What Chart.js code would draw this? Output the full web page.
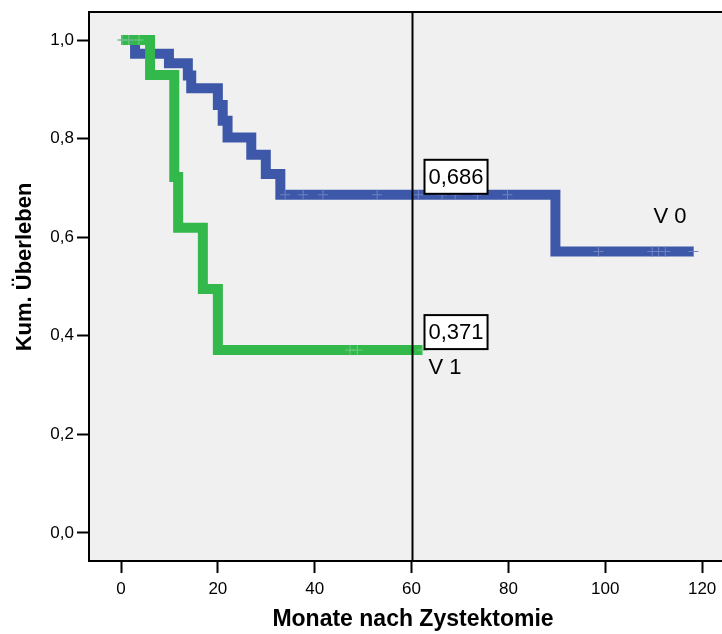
<!DOCTYPE html>
<html>
<head>
<meta charset="utf-8">
<script src="https://cdn.jsdelivr.net/npm/chart.js@4.4.1/dist/chart.umd.min.js"></script>
<style>
  html, body { margin: 0; padding: 0; background: #fff; }
  canvas { display: block; }
</style>
</head>
<body>
<canvas id="km" width="722" height="634"></canvas>
<script>
// Kaplan-Meier: Kum. Überleben nach Zystektomie
const xTicks = [0, 20, 40, 60, 80, 100, 120];
const yTicks = [0, 0.2, 0.4, 0.6, 0.8, 1.0];

// V 0 (blau)
const v0Time = [0, 2.9, 9.9, 13.8, 14.5, 20.0, 21.0, 22.0, 26.9, 29.9, 32.9, 89.7, 118.2];
const v0Surv = [1.0, 0.972, 0.953, 0.928, 0.902, 0.868, 0.836, 0.802, 0.767, 0.728, 0.686, 0.571, 0.571];
const v0Censored = [0.5, 1.8, 33.9, 37.6, 41.7, 52.9, 61.4, 66.3, 69.0, 73.6, 79.8, 98.6, 109.7, 111.0, 112.4, 118.2];

// V 1 (grün)
const v1Time = [0, 6.0, 11.0, 11.8, 16.9, 20.0, 62.2];
const v1Surv = [1.0, 0.929, 0.722, 0.619, 0.495, 0.371, 0.371];
const v1Censored = [0.2, 1.6, 3.7, 47.3, 48.8, 62.2];

const cutMonth = 60;

const blue = '#3e58a9';
const green = '#32b84b';
const font = '"Liberation Sans", Arial, sans-serif';

function survAt(times, surv, t) {
  let s = surv[0];
  for (let i = 0; i < times.length; i++) if (times[i] <= t) s = surv[i];
  return s;
}
const pts = (times, surv) => times.map((t, i) => ({ x: t, y: surv[i] }));
const censorPts = (list, times, surv) => list.map(t => ({ x: t, y: survAt(times, surv, t) }));
const comma = (v, d) => v.toFixed(d).replace('.', ',');

const stepLine = (label, data, color, order) => ({
  label, data, borderColor: color, borderWidth: 10, stepped: 'before',
  pointRadius: 0, fill: false, borderJoinStyle: 'miter', borderCapStyle: 'butt', order
});
const censorSet = (data, color) => ({
  type: 'scatter', data, showLine: false, pointStyle: 'cross',
  pointRadius: 5, borderWidth: 1, borderColor: color, order: 0
});

const plotBg = {
  id: 'plotBg',
  beforeDraw(chart) {
    const { ctx, chartArea: a } = chart;
    ctx.save();
    ctx.fillStyle = '#f0f0f0';
    ctx.fillRect(a.left, a.top, a.right - a.left, a.bottom - a.top);
    ctx.restore();
  }
};

const marks = {
  id: 'marks',
  afterDatasetsDraw(chart) {
    const { ctx, chartArea: a, scales: { x, y } } = chart;
    ctx.save();
    // Rahmen oben
    ctx.strokeStyle = '#000';
    ctx.lineWidth = 2;
    ctx.beginPath();
    ctx.moveTo(a.left, a.top);
    ctx.lineTo(a.right, a.top);
    ctx.stroke();

    // Linie bei 60 Monaten
    const cx = Math.round(x.getPixelForValue(cutMonth)) + 0.5;
    ctx.lineWidth = 2;
    ctx.beginPath();
    ctx.moveTo(cx, a.top);
    ctx.lineTo(cx, a.bottom);
    ctx.stroke();

    // Werte bei 60 Monaten
    ctx.font = '22px ' + font;
    ctx.textBaseline = 'middle';
    ctx.textAlign = 'left';
    [survAt(v0Time, v0Surv, cutMonth), survAt(v1Time, v1Surv, cutMonth)].forEach(v => {
      const txt = comma(v, 3);
      const w = ctx.measureText(txt).width + 8;
      const bx = cx + 12, by = y.getPixelForValue(v) - 35;
      ctx.fillStyle = '#fff';
      ctx.fillRect(bx, by, w, 34);
      ctx.strokeRect(bx, by, w, 34);
      ctx.fillStyle = '#000';
      ctx.fillText(txt, bx + 4, by + 18);
    });

    // Gruppenbeschriftung
    const v1End = v1Time[v1Time.length - 1];
    ctx.fillText('V 1', cx + 16, y.getPixelForValue(survAt(v1Time, v1Surv, v1End)) + 18);
    const v0End = v0Time[v0Time.length - 1];
    ctx.fillText('V 0', x.getPixelForValue(v0End) - 40, y.getPixelForValue(survAt(v0Time, v0Surv, v0End)) - 35);

    // Achsentitel
    ctx.font = 'bold 23px ' + font;
    ctx.textAlign = 'center';
    ctx.fillText('Monate nach Zystektomie', 413, 620);
    ctx.translate(25, 267);
    ctx.rotate(-Math.PI / 2);
    ctx.font = 'bold 22px ' + font;
    ctx.fillText('Kum. Überleben', 0, 0);
    ctx.restore();
  }
};

new Chart(document.getElementById('km'), {
  type: 'line',
  data: {
    datasets: [
      stepLine('V 1', pts(v1Time, v1Surv), green, 1),
      stepLine('V 0', pts(v0Time, v0Surv), blue, 2),
      censorSet(censorPts(v1Censored, v1Time, v1Surv), '#6fcd7e'),
      censorSet(censorPts(v0Censored, v0Time, v0Surv), '#7083c2')
    ]
  },
  options: {
    responsive: false,
    animation: false,
    layout: { autoPadding: false, padding: { top: 12, right: 0, bottom: 0, left: 0 } },
    plugins: { legend: { display: false }, tooltip: { enabled: false } },
    scales: {
      x: {
        type: 'linear', min: -6.61, max: 124.1,
        afterBuildTicks: s => { s.ticks = xTicks.map(v => ({ value: v })); },
        afterFit: s => { s.height = 73; s.paddingLeft = 0; s.paddingRight = 0; },
        grid: { drawOnChartArea: false, drawTicks: true, tickLength: 12, tickWidth: 2, tickColor: '#000' },
        border: { display: true, color: '#000', width: 2 },
        ticks: { color: '#000', font: { family: font, size: 17 }, padding: 6, maxRotation: 0, autoSkip: false }
      },
      y: {
        type: 'linear', min: -0.0568, max: 1.0568,
        afterBuildTicks: s => { s.ticks = yTicks.map(v => ({ value: v })); },
        afterFit: s => { s.width = 89; s.paddingTop = 0; s.paddingBottom = 0; },
        grid: { drawOnChartArea: false, drawTicks: true, tickLength: 12, tickWidth: 2, tickColor: '#000' },
        border: { display: true, color: '#000', width: 2 },
        ticks: { color: '#000', font: { family: font, size: 17 }, padding: 3, autoSkip: false,
                 callback: v => comma(v, 1) }
      }
    }
  },
  plugins: [plotBg, marks]
});
</script>
</body>
</html>
